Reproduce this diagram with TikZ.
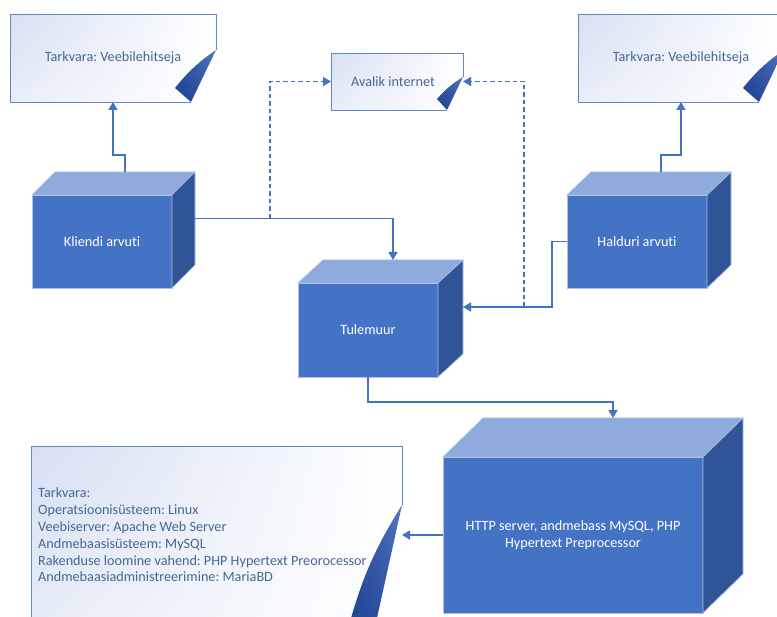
\documentclass[tikz,border=0pt]{standalone}
\usepackage{fontspec}
\setmainfont{Carlito}[Ligatures=NoCommon]
\usetikzlibrary{arrows.meta,calc,shadings}
\frenchspacing

\definecolor{cubefront}{RGB}{68,114,196}
\definecolor{cubetop}{RGB}{143,170,220}
\definecolor{cubeside}{RGB}{47,85,151}
\definecolor{cubeedge}{RGB}{170,192,230}
\definecolor{connblue}{RGB}{68,114,196}
\definecolor{noteedge}{RGB}{100,135,195}
\definecolor{notetint}{RGB}{214,224,242}
\definecolor{notetext}{RGB}{72,102,150}
\definecolor{curllight}{RGB}{85,120,195}
\definecolor{curldark}{RGB}{32,68,148}

\newcommand\diagfont{\fontsize{14.2}{16.8}\selectfont}

% top and right faces of a box drawn as a cube: node name, depth x, depth y
\newcommand\cubesides[3]{%
  \filldraw[fill=cubetop, draw=cubeedge, line width=0.7pt]
    (#1.north west) -- ++(#2,-#3) -- ($(#1.north east)+(#2,-#3)$) -- (#1.north east) -- cycle;
  \filldraw[fill=cubeside, draw=cubeedge, line width=0.7pt]
    (#1.north east) -- ++(#2,-#3) -- ($(#1.south east)+(#2,-#3)$) -- (#1.south east) -- cycle;
}

% note sheet with a curled lower right corner: node name, fold drop on the
% right edge, fold inset on the bottom edge, tip offset from the lower right corner
\newcommand\notesheet[5]{%
  \coordinate (#1-f1) at ($(#1.north east)+(0,#2)$);
  \coordinate (#1-f2) at ($(#1.south east)+(-#3,0)$);
  \coordinate (#1-tip) at ($(#1.south east)+(#4,#5)$);
  \shade[upper left=notetint, lower left=notetint!55!white, upper right=white, lower right=white]
    (#1.north west) -- (#1.north east) -- (#1-f1) -- (#1-f2) -- (#1.south west) -- cycle;
  \draw[noteedge, line width=0.8pt]
    (#1-f2) -- (#1.south west) -- (#1.north west) -- (#1.north east) -- (#1-f1);
  \shade[upper right=curllight, lower left=curldark,
         upper left=curldark!80!curllight, lower right=curldark!80!curllight]
    (#1-f1) to[bend right=8] (#1-tip) -- (#1-f2) -- cycle;
}

\tikzset{
  cube/.style={fill=cubefront, draw=cubeedge, line width=0.7pt, inner sep=0pt,
    outer sep=0pt, text=white, align=center, font=\diagfont},
  notebox/.style={inner sep=0pt, outer sep=0pt},
  notelabel/.style={text=notetext, font=\diagfont, inner sep=0pt},
  conn/.style={draw=connblue, line width=1.6pt, -{Triangle[length=8pt,width=9pt]}},
  dconn/.style={conn, dash pattern=on 4.5pt off 3pt},
}

\begin{document}
\begin{tikzpicture}[x=1pt, y=-1pt]
\useasboundingbox (0,0) rectangle (777,617);
\clip (0,0) rectangle (777,617);
\fill[white] (0,0) rectangle (777,617);

% software notes
\node[notebox, minimum width=206pt, minimum height=88pt] (tl) at (113,58) {};
\notesheet{tl}{36}{25}{-41}{-14}
\node[notelabel] (tl-label) at (tl) {Tarkvara: Veebilehitseja};

\node[notebox, minimum width=132pt, minimum height=57pt] (av) at (397,81.5) {};
\notesheet{av}{24}{16}{-26}{-11}
\node[notelabel] (av-label) at ($(av)+(-4,0)$) {Avalik internet};

\node[notebox, minimum width=206pt, minimum height=88pt] (tr) at (681,58) {};
\notesheet{tr}{36}{25}{-41}{-14}
\node[notelabel] (tr-label) at (tr) {Tarkvara: Veebilehitseja};

\node[notebox, minimum width=371pt, minimum height=199pt] (bn) at (216.5,545.5) {};
\notesheet{bn}{59}{31}{-53}{-20}
\node[notelabel, anchor=west, align=left] (bn-label) at (38,535)
  {Tarkvara:\\
   Operatsioonisüsteem: Linux\\
   Veebiserver: Apache Web Server\\
   Andmebaasisüsteem: MySQL\\
   Rakenduse loomine vahend: PHP Hypertext Preorocessor\\
   Andmebaasiadministreerimine: MariaBD};

% machines
\node[cube, minimum width=140pt, minimum height=93pt] (kl) at (102,241.5) {Kliendi arvuti};
\cubesides{kl}{23}{23}
\node[cube, minimum width=140pt, minimum height=93pt] (hd) at (637,241.5) {Halduri arvuti};
\cubesides{hd}{24}{23}
\node[cube, minimum width=140pt, minimum height=94pt] (tu) at (368,330) {Tulemuur};
\cubesides{tu}{25}{23}
\node[cube, minimum width=260pt, minimum height=156pt] (sv) at (573,535)
  {HTTP server, andmebass MySQL, PHP\\Hypertext Preprocessor};
\cubesides{sv}{40}{39}

% connection points on the cube faces
\coordinate (kl-top) at ($(kl.north)+(23,-23)$);
\coordinate (hd-top) at ($(hd.north)+(24,-23)$);
\coordinate (kl-side) at ($(kl.east)+(23,-23)$);
\coordinate (tu-top) at ($(tu.north)+(25,-23)$);
\coordinate (tu-side) at ($(tu.east)+(25,-23)$);
\coordinate (sv-top) at ($(sv.north)+(40,-39)$);
\coordinate (j-left) at ($(kl-side)+(75,0)$);
\coordinate (j-right) at ($(tu-side)+(61,0)$);

% connectors
\draw[conn] (kl-top) -- ++(0,-17) -| (tl.south);
\draw[conn] (hd-top) -- ++(0,-17) -| (tr.south);
\draw[conn] (kl-side) -| (tu-top);
\draw[dconn] (j-left) |- (av.west);
\draw[conn] (hd.west) -- ++(-15,0) |- (tu-side);
\draw[dconn] (j-right) |- (av.east);
\draw[conn] (tu.south) -- ++(0,25) -| (sv-top);
\draw[conn] (sv.west) -- (sv.west -| bn.east);
\end{tikzpicture}
\end{document}
